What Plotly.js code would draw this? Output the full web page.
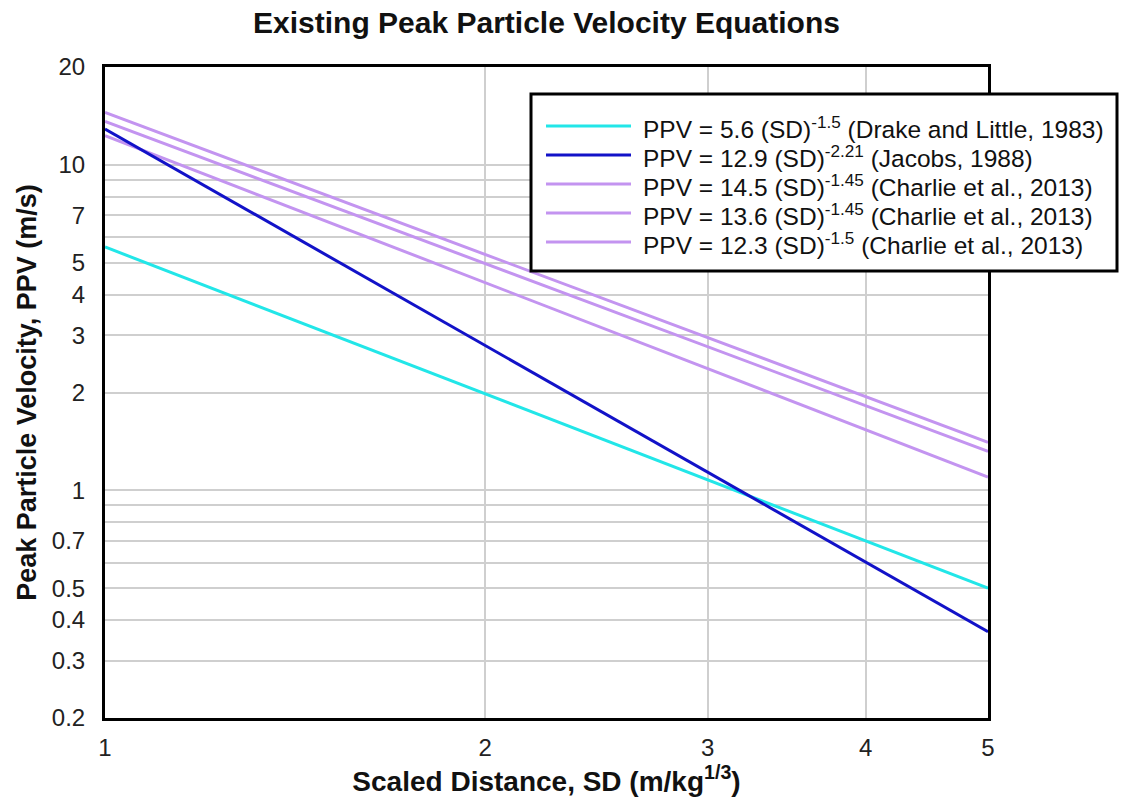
<!DOCTYPE html>
<html>
<head>
<meta charset="utf-8">
<script src="https://cdn.plot.ly/plotly-3.0.1.min.js"></script>
<style>
  html, body { margin: 0; padding: 0; background: #ffffff; }
  #chart { width: 1138px; height: 797px; }
</style>
</head>
<body>
<div id="chart"></div>
<script>
// Scaled distance end points (m/kg^1/3); every curve is a power law, straight on log-log axes
const sd = [1, 5];

// Peak particle velocity (m/s) at SD = 1 and SD = 5 for each equation
const ppvDrake = [5.6, 0.501];        // 5.6 (SD)^-1.5
const ppvJacobs = [12.9, 0.368];      // 12.9 (SD)^-2.21
const ppvCharlieA = [14.5, 1.406];    // 14.5 (SD)^-1.45
const ppvCharlieB = [13.6, 1.318];    // 13.6 (SD)^-1.45
const ppvCharlieC = [12.3, 1.100];    // 12.3 (SD)^-1.5

const legendLabels = [
  'PPV = 5.6 (SD)<sup>-1.5</sup> (Drake and Little, 1983)',
  'PPV = 12.9 (SD)<sup>-2.21</sup> (Jacobs, 1988)',
  'PPV = 14.5 (SD)<sup>-1.45</sup> (Charlie et al., 2013)',
  'PPV = 13.6 (SD)<sup>-1.45</sup> (Charlie et al., 2013)',
  'PPV = 12.3 (SD)<sup>-1.5</sup> (Charlie et al., 2013)'
];

const xTickVals = [1, 2, 3, 4, 5];
const yTickVals = [0.2, 0.3, 0.4, 0.5, 0.7, 1, 2, 3, 4, 5, 7, 10, 20];
const yTickText = ['0.2', '0.3', '0.4', '0.5', '0.7', '1', '2', '3', '4', '5', '7', '10', '20'];
const yMinorGridVals = [0.6, 0.8, 0.9, 6, 8, 9];

const CYAN = '#22e6e8';
const BLUE = '#1212c8';
const VIOLET = '#c394f0';
const GRID = '#cfcfcf';

const series = [
  { y: ppvCharlieA, color: VIOLET, label: legendLabels[2] },
  { y: ppvCharlieB, color: VIOLET, label: legendLabels[3] },
  { y: ppvCharlieC, color: VIOLET, label: legendLabels[4] },
  { y: ppvDrake, color: CYAN, label: legendLabels[0] },
  { y: ppvJacobs, color: BLUE, label: legendLabels[1] }
];

const traces = series.map(s => ({
  type: 'scatter',
  mode: 'lines',
  x: sd,
  y: s.y,
  name: s.label,
  showlegend: false,
  hoverinfo: 'skip',
  line: { color: s.color, width: 3 }
}));

// Hand-built legend box (wider line samples than the built-in legend)
const legendOrder = [
  { color: CYAN, label: legendLabels[0] },
  { color: BLUE, label: legendLabels[1] },
  { color: VIOLET, label: legendLabels[2] },
  { color: VIOLET, label: legendLabels[3] },
  { color: VIOLET, label: legendLabels[4] }
];

const plotLeft = 105, plotRight = 988, plotTop = 67, plotBottom = 718;
const pw = plotRight - plotLeft, ph = plotBottom - plotTop;
const px = v => (v - plotLeft) / pw;
const py = v => (plotBottom - v) / ph;

const shapes = [{
  type: 'rect', xref: 'paper', yref: 'paper', layer: 'above',
  x0: px(531), x1: px(1117), y0: py(271), y1: py(94),
  fillcolor: '#ffffff', line: { color: '#000000', width: 3 }
}];
const annotations = [];
const rowY = [126, 155, 184, 213, 242];
legendOrder.forEach((item, i) => {
  shapes.push({
    type: 'line', xref: 'paper', yref: 'paper', layer: 'above',
    x0: px(546), x1: px(631), y0: py(rowY[i]), y1: py(rowY[i]),
    line: { color: item.color, width: 3 }
  });
  annotations.push({
    xref: 'paper', yref: 'paper', x: px(641), y: py(rowY[i] + 1),
    xanchor: 'left', yanchor: 'middle', showarrow: false,
    text: item.label,
    font: { family: 'Liberation Sans, Arial, sans-serif', size: 24.5, color: '#111111' }
  });
});

const layout = {
  width: 1138,
  height: 797,
  paper_bgcolor: '#ffffff',
  plot_bgcolor: '#ffffff',
  margin: { l: plotLeft, r: 1138 - plotRight, t: plotTop, b: 797 - plotBottom, pad: 0 },
  font: { family: 'Liberation Sans, Arial, sans-serif', color: '#222222' },
  title: {
    text: '<b>Existing Peak Particle Velocity Equations</b>',
    x: 0.5, xref: 'paper', xanchor: 'center',
    y: 1 - 22 / 797, yref: 'container', yanchor: 'middle',
    font: { size: 30, color: '#111111' }
  },
  xaxis: {
    type: 'log',
    range: [Math.log10(1), Math.log10(5)],
    tickmode: 'array',
    tickvals: xTickVals,
    ticktext: xTickVals.map(String),
    ticks: '',
    ticklabelstandoff: 6,
    tickfont: { size: 24, color: '#222222' },
    showgrid: true,
    gridcolor: GRID,
    gridwidth: 2,
    showline: true,
    mirror: true,
    linecolor: '#000000',
    linewidth: 3,
    zeroline: false,
    title: {
      text: '<b>Scaled Distance, SD (m/kg<sup>1/3</sup>)</b>',
      standoff: 3,
      font: { size: 28, color: '#111111' }
    }
  },
  yaxis: {
    type: 'log',
    range: [Math.log10(0.2), Math.log10(20)],
    tickmode: 'array',
    tickvals: yTickVals,
    ticktext: yTickText,
    ticks: '',
    ticklabelstandoff: 12,
    tickfont: { size: 24, color: '#222222' },
    showgrid: true,
    gridcolor: GRID,
    gridwidth: 2,
    minor: {
      tickmode: 'array',
      tickvals: yMinorGridVals,
      ticks: '',
      showgrid: true,
      gridcolor: GRID,
      gridwidth: 2
    },
    showline: true,
    mirror: true,
    linecolor: '#000000',
    linewidth: 3,
    zeroline: false,
    title: {
      text: '<b>Peak Particle Velocity, PPV (m/s)</b>',
      standoff: 8,
      font: { size: 27, color: '#111111' }
    }
  },
  shapes: shapes,
  annotations: annotations,
  showlegend: false
};

Plotly.newPlot('chart', traces, layout, { staticPlot: true, displayModeBar: false });
</script>
</body>
</html>
